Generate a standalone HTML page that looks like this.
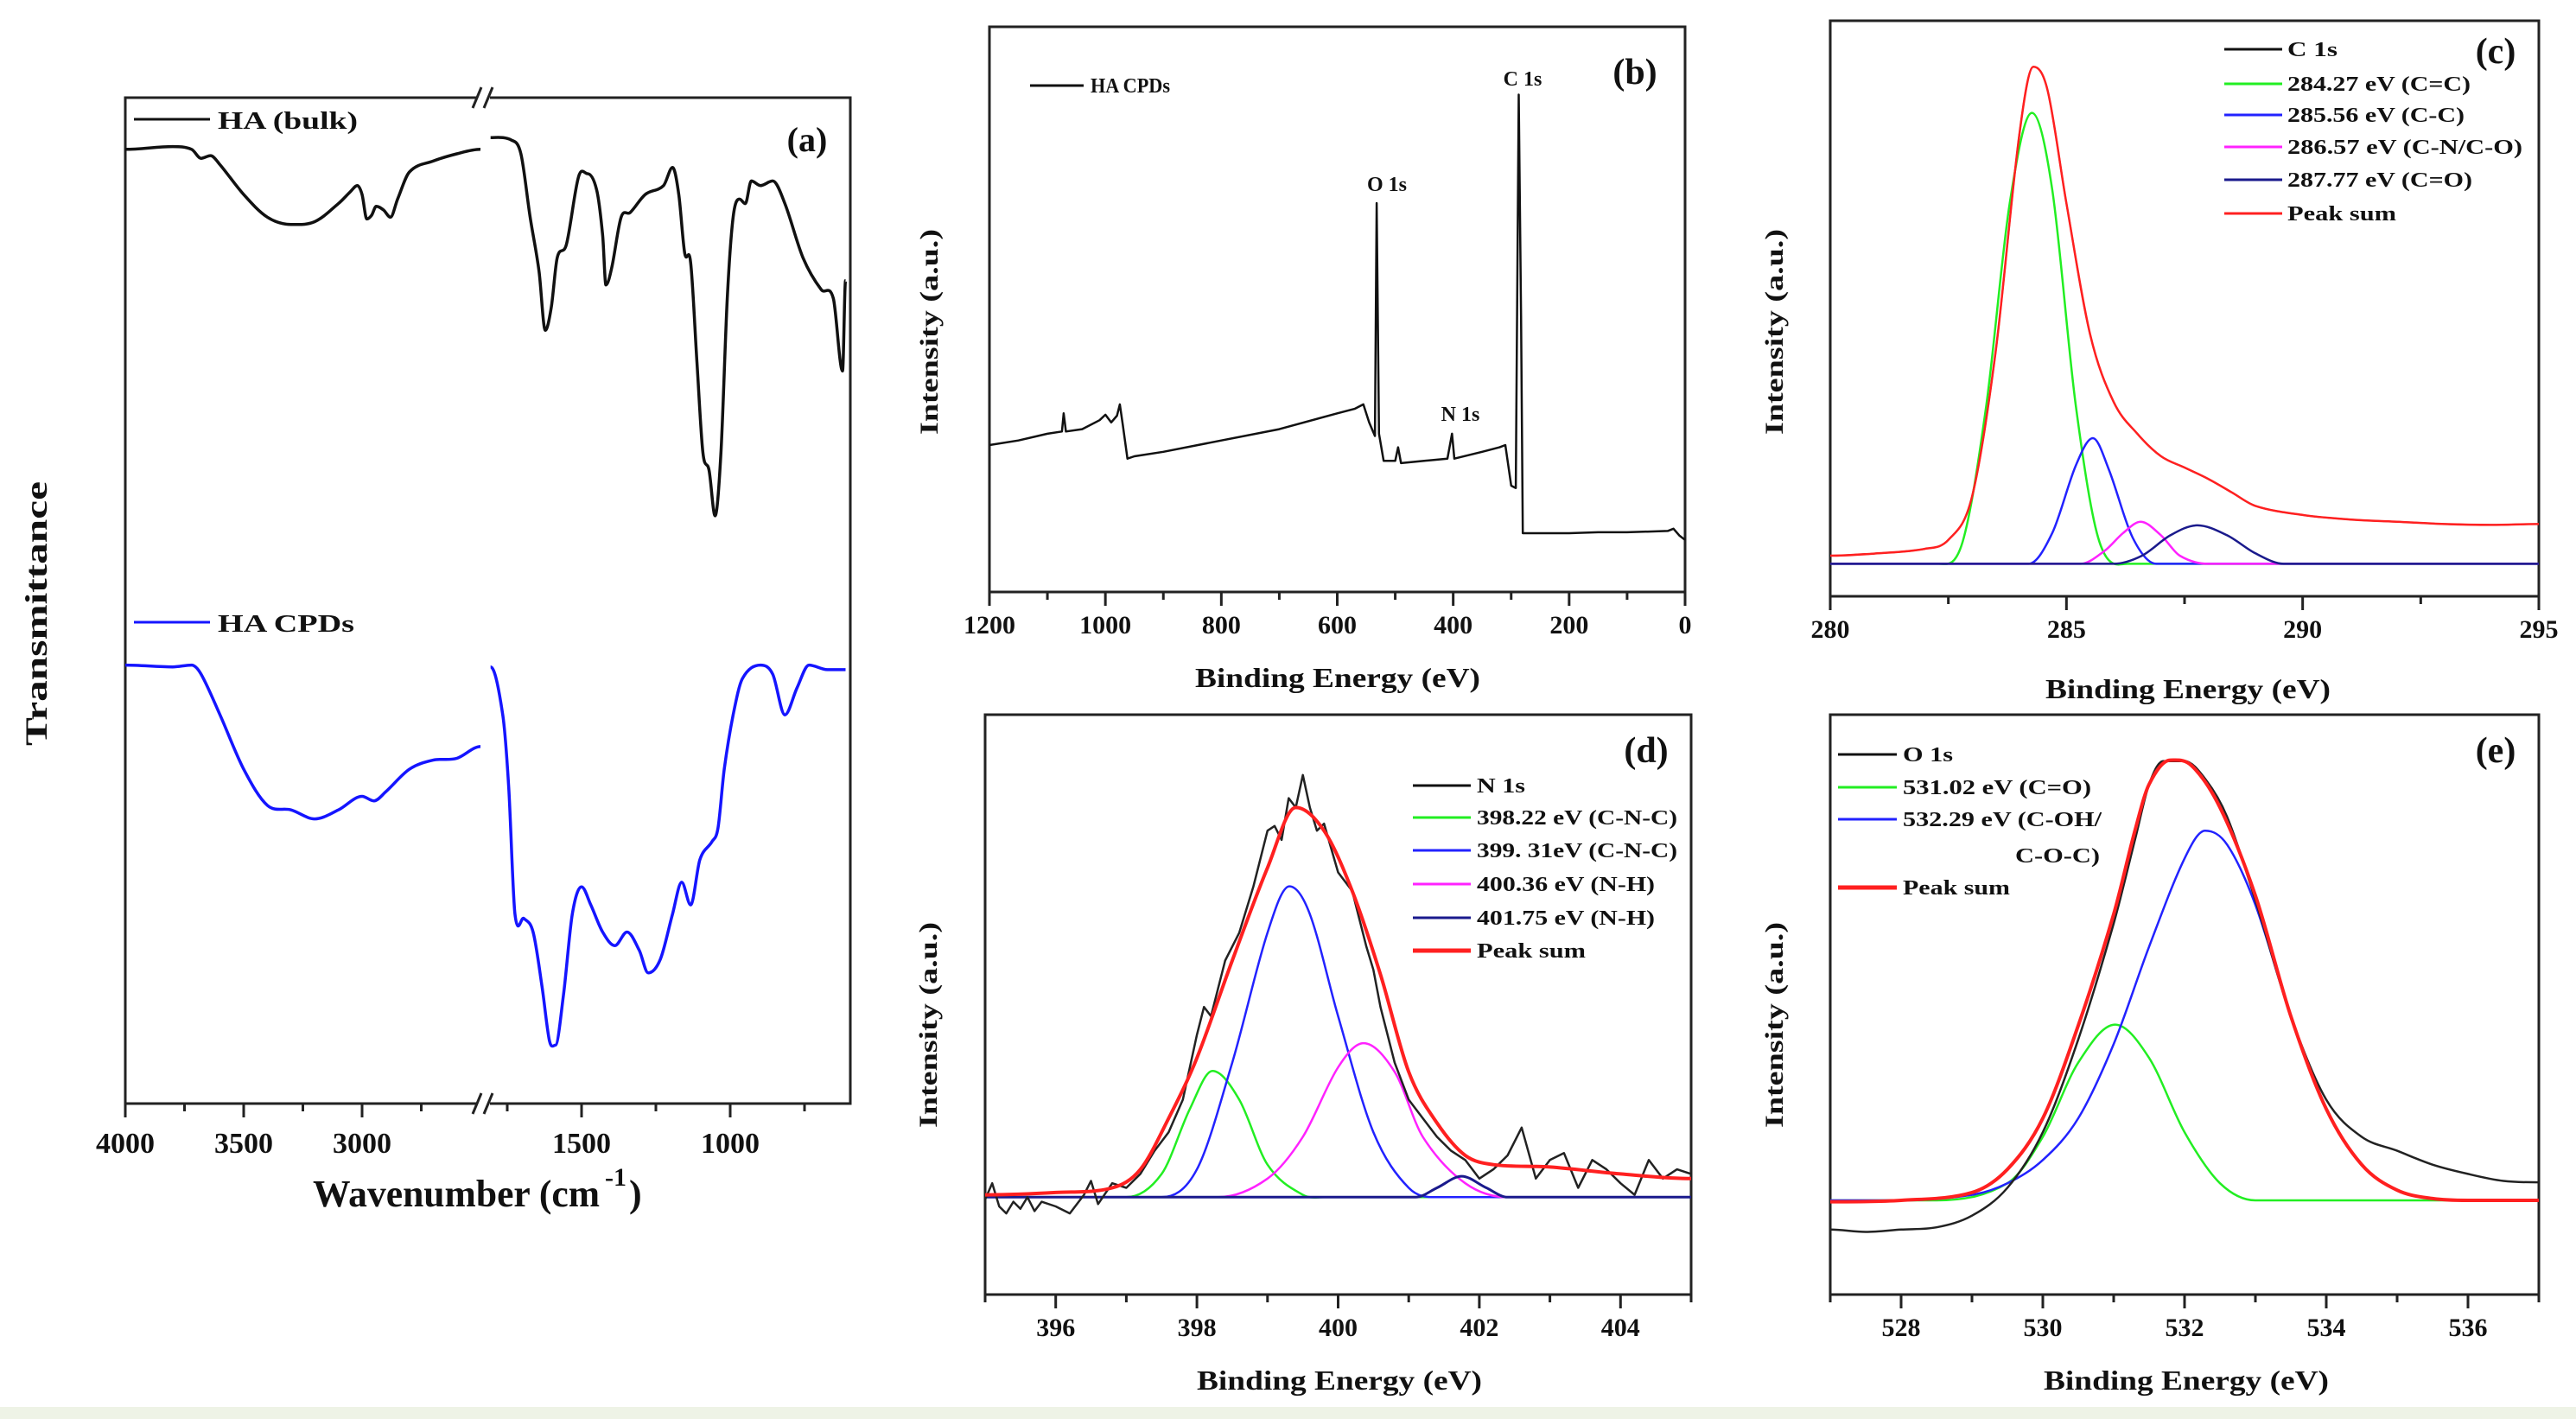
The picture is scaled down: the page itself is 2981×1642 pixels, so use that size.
<!DOCTYPE html>
<html><head><meta charset="utf-8"><style>
html,body{margin:0;padding:0;background:#fff;}
svg{display:block;font-family:"Liberation Serif",serif;font-weight:bold;}
</style></head><body>
<svg id="fig" width="2981" height="1642" viewBox="0 0 2981 1642" xmlns="http://www.w3.org/2000/svg">
<rect x="0" y="0" width="2981" height="1642" fill="#fff"/>
<rect x="0" y="1628" width="2981" height="14" fill="#eef3e6"/>
<g id="layer"></g>
</svg>
<script>
// ---------- Panel (a) FTIR data ----------
const aBulkLeftX = [4000,3800,3720,3680,3640,3600,3500,3400,3300,3200,3100,3050,3020,3000,2980,2960,2940,2910,2880,2850,2800,2700,2600,2500];
const aBulkLeftY = [1055,1058,1055,1045,1048,1038,1005,980,972,975,995,1008,1015,1005,978,982,992,988,980,1000,1030,1042,1050,1055];
const aBulkRightX = [1806,1735,1704,1673,1643,1622,1602,1582,1551,1510,1480,1449,1429,1418,1398,1367,1337,1286,1224,1194,1173,1153,1133,1112,1092,1071,1051,1031,1010,990,969,949,929,898,857,816,755,694,653,622,612];
const aBulkRightY = [1068,1065,1050,980,920,855,880,935,950,1025,1028,1010,960,905,925,980,985,1005,1015,1035,1005,940,930,820,720,700,650,720,890,980,1000,995,1020,1015,1020,995,935,900,890,810,910];
const aCpdLeftX = [4000,3800,3720,3680,3600,3500,3400,3300,3200,3100,3000,2950,2900,2800,2700,2600,2500];
const aCpdLeftY = [485,483,485,475,430,370,330,325,315,325,340,335,345,370,380,382,395];
const aCpdRightX = [1806,1765,1745,1724,1694,1663,1633,1608,1588,1561,1531,1500,1469,1429,1388,1347,1306,1276,1235,1194,1163,1133,1102,1061,1041,1020,990,959,898,857,816,775,735,673,612];
const aCpdRightY = [483,430,350,210,205,190,130,70,65,120,210,240,220,190,175,190,170,145,160,210,245,220,270,290,305,370,430,470,485,475,430,460,485,480,480];
const aLeftTicks = [4000,3500,3000];
const aLeftMinor = [3750,3250,2750];
const aRightTicks = [1500,1000];
const aRightMinor = [1750,1250,750];

// ---------- Panel (b) survey ----------
const bX = [1200,1150,1100,1075,1072,1068,1040,1010,1000,990,980,975,970,962,950,900,800,700,600,570,555,545,535,532,528,520,500,495,490,450,410,402,398,350,320,310,300,292,287,283,280,250,200,150,100,30,20,10,0];
const bY = [325,335,350,355,395,355,360,380,392,375,390,415,370,295,300,310,335,360,395,405,415,375,345,860,350,290,290,320,285,290,295,350,295,310,320,325,235,230,1100,610,130,130,130,132,132,135,140,125,115];
const bTicks = [1200,1000,800,600,400,200,0];
const bMinor = [1100,900,700,500,300,100];

// ---------- Panel (c) C 1s ----------
const cSumX = [280,281,282,282.5,283,283.5,284,284.3,284.6,285,285.5,286,286.5,287,287.5,288,288.5,289,290,291,292,293,294,295];
const cSumY = [90,95,105,125,220,540,1020,1172,1120,870,580,430,360,310,285,260,230,200,180,170,165,160,158,160];
const cG1X = [280,282.3,282.8,283.3,283.8,284.27,284.7,285.2,285.7,286.3,295];
const cG1Y = [72,72,120,420,870,1070,900,420,120,72,72];
const cG2X = [280,284.2,284.7,285.2,285.56,285.9,286.4,286.9,295];
const cG2Y = [72,72,140,290,350,280,130,72,72];
const cG3X = [280,285.3,285.8,286.2,286.57,287,287.4,288,295];
const cG3Y = [72,72,100,140,165,135,90,72,72];
const cG4X = [280,286,286.6,287.2,287.77,288.4,289,289.6,295];
const cG4Y = [72,72,90,135,157,135,95,72,72];
const cTicks = [280,285,290,295];
const cMinor = [282.5,287.5,292.5];

// ---------- Panel (d) N 1s ----------
const dDataX = [395,395.1,395.2,395.3,395.4,395.5,395.6,395.7,395.8,396,396.2,396.4,396.5,396.6,396.8,397,397.2,397.4,397.6,397.8,398,398.1,398.2,398.4,398.6,398.8,399,399.1,399.2,399.3,399.4,399.5,399.6,399.7,399.8,400,400.2,400.4,400.5,400.6,400.8,401,401.2,401.4,401.6,401.8,402,402.2,402.4,402.6,402.8,403,403.2,403.4,403.6,403.8,404,404.2,404.4,404.6,404.8,405];
const dDataY = [205,240,190,175,200,185,210,180,200,190,175,215,245,195,240,230,260,310,350,420,560,620,600,720,780,880,1000,1010,980,1070,1050,1120,1050,1000,1015,910,870,750,700,620,500,420,380,340,310,290,250,270,300,360,250,290,305,230,290,270,240,215,290,250,270,260];
const dSumX = [395,396,396.8,397.2,397.6,398,398.5,399,399.4,399.8,400.2,400.6,401,401.4,401.8,402.2,403,404,405];
const dSumY = [215,220,230,270,380,510,720,920,1050,1000,870,690,480,370,300,280,275,260,250];
const dG1X = [395,397,397.5,397.9,398.22,398.6,399,399.5,399.8,405];
const dG1Y = [210,210,260,400,482,420,280,215,210,210];
const dG2X = [395,397.5,398,398.5,399,399.31,399.6,400,400.5,401,401.4,405];
const dG2Y = [210,210,270,500,780,880,820,600,350,230,210,210];
const dG3X = [395,398.3,399,399.5,400,400.36,400.8,401.2,401.8,402.4,405];
const dG3Y = [210,210,250,340,490,542,480,340,240,210,210];
const dG4X = [395,401.1,401.4,401.75,402.1,402.4,405];
const dG4Y = [210,210,230,255,230,210,210];
const dTicks = [396,398,400,402,404];
const dMinor = [395,397,399,401,403,405];

// ---------- Panel (e) O 1s ----------
const eDataX = [527,527.5,528,528.5,529,529.5,530,530.5,531,531.3,531.5,531.7,532,532.3,532.6,533,533.5,534,534.5,535,535.5,536,536.5,537];
const eDataY = [140,135,140,145,170,230,350,550,800,980,1100,1150,1150,1110,1030,850,600,420,340,310,280,260,245,242];
const eSumX = [527,528,529,529.5,530,530.5,531,531.3,531.5,531.8,532.1,532.5,533,533.5,534,534.5,535,535.5,536,537];
const eSumY = [200,203,220,270,380,580,820,1000,1100,1152,1140,1050,860,600,400,280,225,207,203,203];
const eG1X = [527,528.5,529.5,530,530.5,531.02,531.5,532,532.5,533,537];
const eG1Y = [203,203,240,340,500,582,510,350,240,203,203];
const eG2X = [527,528,529,529.5,530,530.5,531,531.5,532,532.29,532.6,533,533.5,534,534.5,535,535.5,536,537];
const eG2Y = [203,203,215,240,290,380,540,750,940,1000,970,840,600,400,280,225,207,203,203];
const eTicks = [528,530,532,534,536];
const eMinor = [527,529,531,533,535,537];

const NS = "http://www.w3.org/2000/svg";
const layer = document.getElementById('layer');
function mk(tag, attrs, parent) {
  const el = document.createElementNS(NS, tag);
  for (const k in attrs) el.setAttribute(k, attrs[k]);
  (parent || layer).appendChild(el);
  return el;
}
function linScale(d0, d1, r0, r1) { return v => r0 + (v - d0) / (d1 - d0) * (r1 - r0); }
function pathFrom(xs, ys, sx, sy, smooth) {
  const P = xs.map((x, i) => [sx(x), sy(ys[i])]);
  const n = P.length;
  const m = P.map((p, i) => {
    if (i === 0 || i === n - 1) return 0;
    const a = P[i - 1], b = P[i + 1];
    const s1 = (p[1] - a[1]) / (p[0] - a[0] || 1e-6), s2 = (b[1] - p[1]) / (b[0] - p[0] || 1e-6);
    if (s1 * s2 <= 0) return 0;
    return (b[1] - a[1]) / (b[0] - a[0] || 1e-6);
  });
  let d = 'M' + P[0][0].toFixed(1) + ' ' + P[0][1].toFixed(1);
  for (let i = 1; i < n; i++) {
    if (!smooth) { d += 'L' + P[i][0].toFixed(1) + ' ' + P[i][1].toFixed(1); continue; }
    const p1 = P[i - 1], p2 = P[i];
    const dx = (p2[0] - p1[0]) / 3;
    const c1x = p1[0] + dx, c1y = p1[1] + m[i - 1] * dx;
    const c2x = p2[0] - dx, c2y = p2[1] - m[i] * dx;
    d += 'C' + c1x.toFixed(1) + ' ' + c1y.toFixed(1) + ' ' + c2x.toFixed(1) + ' ' + c2y.toFixed(1) + ' ' + p2[0].toFixed(1) + ' ' + p2[1].toFixed(1);
  }
  return d;
}
function series(name, xs, ys, sx, sy, color, w, smooth) {
  const p = mk('path', { d: pathFrom(xs, ys, sx, sy, smooth), fill: 'none', stroke: color, 'stroke-width': w, 'stroke-linejoin': 'round' });
  
  
  return p;
}
function text(name, x, y, str, size, opts) {
  opts = opts || {};
  const t = mk('text', { x: x, y: y, 'font-size': size, 'text-anchor': opts.anchor || 'start', fill: '#111' });
  if (opts.len) { t.setAttribute('textLength', opts.len); t.setAttribute('lengthAdjust', 'spacingAndGlyphs'); }
  if (opts.rot) t.setAttribute('transform', 'rotate(-90 ' + x + ' ' + y + ')');
  t.textContent = str;
  
  
  return t;
}
function frame(name, L, T, R, B) {
  const r = mk('rect', { x: L, y: T, width: R - L, height: B - T, fill: 'none', stroke: '#222', 'stroke-width': 3 });
  
  
}
function tick(name, x, B, len) {
  const l = mk('line', { x1: x, y1: B, x2: x, y2: B + len, stroke: '#222', 'stroke-width': 3 });
  
  
}
function legendLine(name, x1, x2, y, color, w) {
  const l = mk('line', { x1: x1, y1: y, x2: x2, y2: y, stroke: color, 'stroke-width': w });
  
  
}

// ===== Panel (a) =====
(function () {
  const L = 145, T = 113, R = 984, B = 1277;
  const sxL = linScale(4000, 3500, 145, 282);
  const sxR = linScale(1500, 1000, 673, 845);
  const syA = v => (1220 - v) / 0.955;
  frame('panel-a-frame', L, T, R, B);
  mk('rect', { x: 553, y: T - 4, width: 14, height: 8, fill: '#fff' });
  mk('rect', { x: 553, y: B - 4, width: 14, height: 8, fill: '#fff' });
  for (const yy of [T, B]) {
    const g1 = mk('line', { x1: 547, y1: yy + 12, x2: 557, y2: yy - 12, stroke: '#222', 'stroke-width': 3 });
    
    
    const g2 = mk('line', { x1: 560, y1: yy + 12, x2: 570, y2: yy - 12, stroke: '#222', 'stroke-width': 3 });
    
    
  }
  series('ha-bulk-line-left', aBulkLeftX, aBulkLeftY, sxL, syA, '#111', 3.5, true);
  series('ha-bulk-line-right', aBulkRightX, aBulkRightY, sxR, syA, '#111', 3.5, true);
  series('ha-cpds-line-left', aCpdLeftX, aCpdLeftY, sxL, syA, '#1515ff', 3.5, true);
  series('ha-cpds-line-right', aCpdRightX, aCpdRightY, sxR, syA, '#1515ff', 3.5, true);
  aLeftTicks.forEach(v => { tick('x-tick', sxL(v), B, 16); text('x-tick-label', sxL(v), 1334, String(v), 34, { anchor: 'middle' }); });
  aRightTicks.forEach(v => { tick('x-tick', sxR(v), B, 16); text('x-tick-label', sxR(v), 1334, String(v), 34, { anchor: 'middle' }); });
  aLeftMinor.forEach(v => tick('x-minor-tick', sxL(v), B, 9));
  aRightMinor.forEach(v => tick('x-minor-tick', sxR(v), B, 9));
  text('x-axis-title', 362, 1396, 'Wavenumber (cm', 44, { len: 332 });
  text('x-axis-title-sup', 700, 1372, '-1', 30);
  text('x-axis-title-close', 728, 1396, ')', 44);
  text('y-axis-title', 54, 710, 'Transmittance', 36, { anchor: 'middle', rot: true, len: 306 });
  legendLine('legend-ha-bulk-line', 155, 243, 138, '#111', 3);
  text('legend-ha-bulk', 252, 149, 'HA (bulk)', 28, { len: 162 });
  legendLine('legend-ha-cpds-line', 155, 243, 720, '#1515ff', 3);
  text('legend-ha-cpds', 252, 731, 'HA CPDs', 28, { len: 158 });
  text('panel-label-a', 934, 175, '(a)', 40, { anchor: 'middle' });
})();

// ===== Panel (b) =====
(function () {
  const L = 1145, T = 31, R = 1950, B = 685;
  const sx = linScale(1200, 0, L, R);
  const sy = linScale(0, 1250, B, T);
  frame('panel-b-frame', L, T, R, B);
  series('survey-spectrum', bX, bY, sx, sy, '#111', 2.5);
  bTicks.forEach(v => { tick('x-tick', sx(v), B, 16); text('x-tick-label', sx(v), 733, String(v), 30, { anchor: 'middle' }); });
  bMinor.forEach(v => tick('x-minor-tick', sx(v), B, 9));
  text('x-axis-title', 1548, 795, 'Binding Energy (eV)', 32, { anchor: 'middle', len: 330 });
  text('y-axis-title', 1085, 384, 'Intensity (a.u.)', 30, { anchor: 'middle', rot: true, len: 238 });
  legendLine('legend-ha-cpds-line', 1192, 1254, 99, '#111', 3);
  text('legend-ha-cpds', 1262, 107, 'HA CPDs', 24, { len: 92 });
  text('peak-label-c1s', 1762, 99, 'C 1s', 24, { anchor: 'middle' });
  text('peak-label-o1s', 1605, 221, 'O 1s', 24, { anchor: 'middle' });
  text('peak-label-n1s', 1690, 487, 'N 1s', 24, { anchor: 'middle' });
  text('panel-label-b', 1892, 97, '(b)', 42, { anchor: 'middle' });
})();

// ===== Panel (c) =====
(function () {
  const L = 2118, T = 24, R = 2938, B = 690;
  const sx = linScale(280, 295, L, R);
  const sy = linScale(0, 1274, B, T);
  frame('panel-c-frame', L, T, R, B);
  series('fit-284-27', cG1X, cG1Y, sx, sy, '#22ee22', 2.5, true);
  series('fit-285-56', cG2X, cG2Y, sx, sy, '#2222ff', 2.5, true);
  series('fit-286-57', cG3X, cG3Y, sx, sy, '#ff22ff', 2.5, true);
  series('fit-287-77', cG4X, cG4Y, sx, sy, '#1a1a8c', 2.5, true);
  series('c1s-data', cSumX, cSumY, sx, sy, '#222', 2, true);
  series('c1s-peak-sum', cSumX, cSumY, sx, sy, '#ff2020', 2.5, true);
  cTicks.forEach(v => { tick('x-tick', sx(v), B, 16); text('x-tick-label', sx(v), 738, String(v), 30, { anchor: 'middle' }); });
  cMinor.forEach(v => tick('x-minor-tick', sx(v), B, 9));
  text('x-axis-title', 2532, 808, 'Binding Energy (eV)', 32, { anchor: 'middle', len: 330 });
  text('y-axis-title', 2063, 384, 'Intensity (a.u.)', 30, { anchor: 'middle', rot: true, len: 238 });
  const rows = [57, 97, 133, 170, 208, 247];
  const cols = ['#111', '#22ee22', '#2222ff', '#ff22ff', '#1a1a8c', '#ff2020'];
  const labels = ['C 1s', '284.27 eV (C=C)', '285.56 eV (C-C)', '286.57 eV (C-N/C-O)', '287.77 eV (C=O)', 'Peak sum'];
  const lens = [58, 212, 205, 272, 214, 126];
  for (let i = 0; i < rows.length; i++) {
    legendLine('legend-line', 2574, 2641, rows[i], cols[i], 3);
    text('legend-label', 2647, rows[i] + 8, labels[i], 24, { len: lens[i] });
  }
  text('panel-label-c', 2888, 73, '(c)', 42, { anchor: 'middle' });
})();

// ===== Panel (d) =====
(function () {
  const L = 1140, T = 827, R = 1957, B = 1498;
  const sx = linScale(395, 405, L, R);
  const sy = linScale(0, 1250, B, T);
  frame('panel-d-frame', L, T, R, B);
  series('fit-398-22', dG1X, dG1Y, sx, sy, '#22ee22', 2.5, true);
  series('fit-399-31', dG2X, dG2Y, sx, sy, '#2222ff', 2.5, true);
  series('fit-400-36', dG3X, dG3Y, sx, sy, '#ff22ff', 2.5, true);
  series('fit-401-75', dG4X, dG4Y, sx, sy, '#1a1a8c', 3, true);
  series('n1s-data', dDataX, dDataY, sx, sy, '#222', 2.5);
  series('n1s-peak-sum', dSumX, dSumY, sx, sy, '#ff2020', 4, true);
  dTicks.forEach(v => { tick('x-tick', sx(v), B, 16); text('x-tick-label', sx(v), 1546, String(v), 30, { anchor: 'middle' }); });
  dMinor.forEach(v => tick('x-minor-tick', sx(v), B, 9));
  text('x-axis-title', 1550, 1608, 'Binding Energy (eV)', 32, { anchor: 'middle', len: 330 });
  text('y-axis-title', 1084, 1186, 'Intensity (a.u.)', 30, { anchor: 'middle', rot: true, len: 238 });
  const rows = [909, 946, 984, 1023, 1062, 1100];
  const cols = ['#111', '#22ee22', '#2222ff', '#ff22ff', '#1a1a8c', '#ff2020'];
  const labels = ['N 1s', '398.22 eV (C-N-C)', '399. 31eV (C-N-C)', '400.36 eV (N-H)', '401.75 eV (N-H)', 'Peak sum'];
  const lens = [56, 232, 232, 206, 206, 126];
  for (let i = 0; i < rows.length; i++) {
    legendLine('legend-line', 1635, 1702, rows[i], cols[i], i === 5 ? 5 : 3);
    text('legend-label', 1709, rows[i] + 8, labels[i], 24, { len: lens[i] });
  }
  text('panel-label-d', 1905, 882, '(d)', 42, { anchor: 'middle' });
})();

// ===== Panel (e) =====
(function () {
  const L = 2118, T = 827, R = 2938, B = 1498;
  const sx = linScale(527, 537, L, R);
  const sy = linScale(0, 1250, B, T);
  frame('panel-e-frame', L, T, R, B);
  series('fit-531-02', eG1X, eG1Y, sx, sy, '#22ee22', 2.5, true);
  series('fit-532-29', eG2X, eG2Y, sx, sy, '#2222ff', 2.5, true);
  series('o1s-data', eDataX, eDataY, sx, sy, '#222', 2.5, true);
  series('o1s-peak-sum', eSumX, eSumY, sx, sy, '#ff2020', 4, true);
  eTicks.forEach(v => { tick('x-tick', sx(v), B, 16); text('x-tick-label', sx(v), 1546, String(v), 30, { anchor: 'middle' }); });
  eMinor.forEach(v => tick('x-minor-tick', sx(v), B, 9));
  text('x-axis-title', 2530, 1608, 'Binding Energy (eV)', 32, { anchor: 'middle', len: 330 });
  text('y-axis-title', 2063, 1186, 'Intensity (a.u.)', 30, { anchor: 'middle', rot: true, len: 238 });
  const rows = [873, 911, 948, 1027];
  const cols = ['#111', '#22ee22', '#2222ff', '#ff2020'];
  const labels = ['O 1s', '531.02 eV (C=O)', '532.29 eV (C-OH/', 'Peak sum'];
  const lens = [58, 218, 230, 124];
  for (let i = 0; i < rows.length; i++) {
    legendLine('legend-line', 2127, 2195, rows[i], cols[i], i === 3 ? 5 : 3);
    text('legend-label', 2202, rows[i] + 8, labels[i], 24, { len: lens[i] });
  }
  text('legend-label-continued', 2430, 998, 'C-O-C)', 24, { anchor: 'end', len: 98 });
  text('panel-label-e', 2888, 882, '(e)', 42, { anchor: 'middle' });
})();
</script>
</body></html>
